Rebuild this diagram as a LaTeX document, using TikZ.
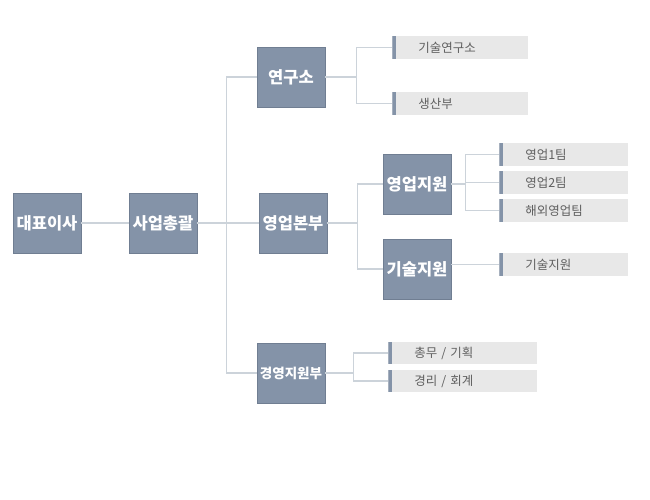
\documentclass[tikz,border=0pt]{standalone}
\usepackage{fontspec}
\setmainfont{Noto Sans CJK KR}
\usepackage{tikz}
\usetikzlibrary{positioning,calc}
\definecolor{boxblue}{RGB}{132,147,168}
\definecolor{boxedge}{RGB}{112,126,146}
\definecolor{subfill}{RGB}{232,232,232}
\definecolor{subtext}{RGB}{95,95,95}
\definecolor{linkgray}{RGB}{204,211,218}

\begin{document}
\begin{tikzpicture}[x=0.02cm, y=-0.02cm,
    unit/.style={rectangle, fill=boxblue, draw=boxedge, line width=0.4pt,
      minimum width=1.36cm, minimum height=1.2cm, inner sep=0pt,
      text=white, font=\fontsize{9.4}{11}\selectfont\bfseries},
    sub/.style={rectangle, fill=subfill, minimum height=0.46cm, inner ysep=0pt,
      inner xsep=0.52cm, text width=#1, align=left, text=subtext,
      font=\fontsize{7.1}{8}\selectfont,
      path picture={\fill[boxblue] (path picture bounding box.south west)
        rectangle ([xshift=0.07cm]path picture bounding box.north west);}},
    conn/.style={linkgray, line width=0.8pt}]
    \useasboundingbox (0,0) rectangle (650,500);
    % --- Main units ---
    \node[unit] (ceo) at (47,223) {대표이사};
    \node[unit] (gm) at (163,223) {사업총괄};
    \node[unit] (lab) at (291,77) {연구소};
    \node[unit] (sales) at (293,223) {영업본부};
    \node[unit, font=\fontsize{7.7}{9}\selectfont\bfseries] (mgmt) at (291,373) {경영지원부};
    \node[unit] (salessup) at (417,184) {영업지원};
    \node[unit] (techsup) at (417,269) {기술지원};
    % --- Teams ---
    \node[sub=1.68cm, anchor=west] (rnd) at (392,47.5) {기술연구소};
    \node[sub=1.68cm, anchor=west] (prod) at (392,103.5) {생산부};
    \node[sub=1.54cm, anchor=west] (team1) at (499,154.5) {영업1팀};
    \node[sub=1.54cm, anchor=west] (team2) at (499,182.5) {영업2팀};
    \node[sub=1.54cm, anchor=west] (team3) at (499,210.5) {해외영업팀};
    \node[sub=1.54cm, anchor=west] (techteam) at (499,264.5) {기술지원};
    \node[sub=1.94cm, anchor=west] (admin) at (388,353) {총무 / 기획};
    \node[sub=1.94cm, anchor=west] (acct) at (388,381) {경리 / 회계};
    % --- Connectors ---
    \draw[conn] (ceo) -- (gm);
    \draw[conn] (gm) -- (sales);
    \draw[conn] (lab.west) -- ++(-30,0) |- (mgmt.west);
    \draw[conn] (lab.east) -- ++(31,0) |- (rnd.west);
    \draw[conn] (lab.east) ++(31,0) |- (prod.west);
    \draw[conn] (sales.east) -- ++(30,0) |- (salessup.west);
    \draw[conn] (sales.east) ++(30,0) |- (techsup.west);
    \draw[conn] (salessup.east) -- ++(14,0) |- (team1.west);
    \draw[conn] (salessup.east) ++(14,0) |- (team2.west);
    \draw[conn] (salessup.east) ++(14,0) |- (team3.west);
    \draw[conn] (techsup.east |- techteam.west) -- (techteam.west);
    \draw[conn] (mgmt.east) -- ++(28,0) |- (admin.west);
    \draw[conn] (mgmt.east) ++(28,0) |- (acct.west);
  \end{tikzpicture}
\end{document}
